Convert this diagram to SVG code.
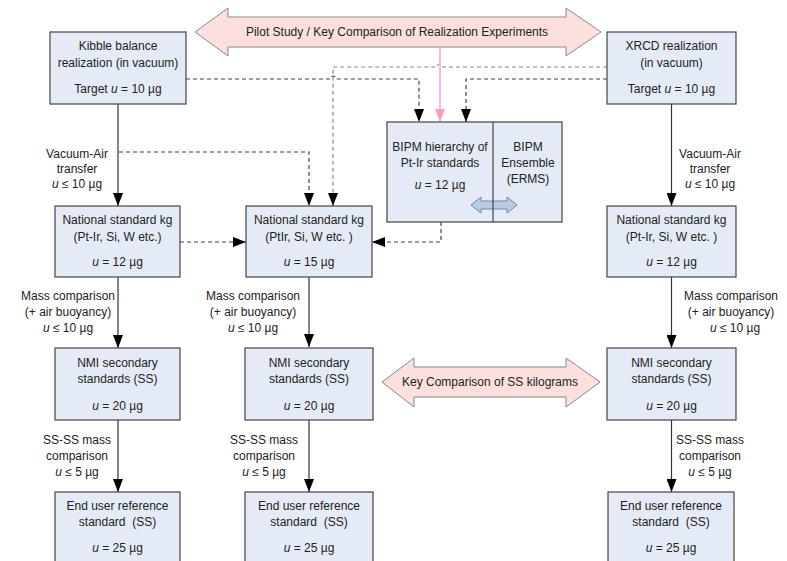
<svg xmlns="http://www.w3.org/2000/svg" width="787" height="561" viewBox="0 0 787 561">
<style>
  text { font-family: "Liberation Sans", Arial, sans-serif; font-size: 12px; fill: #222; text-anchor: middle; }
  .pre { white-space: pre; }
  .box { fill: #e5ebf6; stroke: #444; stroke-width: 1.2; }
  .big { fill: #fde0de; stroke: #888; stroke-width: 1; }
  .solid { fill: none; stroke: #333; stroke-width: 1.2; }
  .dash { fill: none; stroke: #444; stroke-width: 1.2; stroke-dasharray: 4 3; }
  .dashg { fill: none; stroke: #888; stroke-width: 1.2; stroke-dasharray: 4 3; }
  .pink { fill: none; stroke: #ff99cc; stroke-width: 1.4; }
</style>
<defs>
  <marker id="ah" viewBox="0 0 13 10" refX="13" refY="5" markerWidth="13" markerHeight="10" markerUnits="userSpaceOnUse" orient="auto">
    <path d="M0,0 L13,5 L0,10 z" fill="#000"/>
  </marker>
  <marker id="ahp" viewBox="0 0 13 10" refX="13" refY="5" markerWidth="13" markerHeight="10" markerUnits="userSpaceOnUse" orient="auto">
    <path d="M0,0 L13,5 L0,10 z" fill="#ff99cc"/>
  </marker>
</defs>

<g id="pilot-arrow">
  <polygon class="big" points="195,32 228,8 228,17 566,17 566,8 601,32 566,56 566,47 228,47 228,56"/>
  <text x="397" y="36">Pilot Study / Key Comparison of Realization Experiments</text>
</g>

<g id="key-arrow">
  <polygon class="big" points="382,382 414,358 414,367 566,367 566,358 600,382 566,407 566,397 414,397 414,407"/>
  <text x="490" y="386">Key Comparison of SS kilograms</text>
</g>

<g id="connectors">
  <path class="solid" d="M118,104 V206" marker-end="url(#ah)"/>
  <path class="solid" d="M671.5,104 V206" marker-end="url(#ah)"/>
  <path class="solid" d="M118,277 V348" marker-end="url(#ah)"/>
  <path class="solid" d="M309,277 V347" marker-end="url(#ah)"/>
  <path class="solid" d="M671.5,277 V348" marker-end="url(#ah)"/>
  <path class="solid" d="M118,420 V492" marker-end="url(#ah)"/>
  <path class="solid" d="M309,420 V492" marker-end="url(#ah)"/>
  <path class="solid" d="M671.5,420 V492" marker-end="url(#ah)"/>
  <path class="dashg" d="M607,67 H443 A3,3 0 0 0 437,67 H333 V206" marker-end="url(#ah)"/>
  <path class="dash" d="M186,79 H330 A3,3 0 0 1 336,79 H419 V122" marker-end="url(#ah)"/>
  <path class="dash" d="M607,79 H466 V122" marker-end="url(#ah)"/>
  <path class="dash" d="M119,152 H309 V206" marker-end="url(#ah)"/>
  <path class="dash" d="M180,242 H246" marker-end="url(#ah)"/>
  <path class="dash" d="M441,222 V242 H372" marker-end="url(#ah)"/>
  <path class="pink" d="M440,47 V122" marker-end="url(#ahp)"/>
</g>

<g id="kibble">
  <rect class="box" x="50" y="32" width="136" height="72"/>
  <text x="118" y="50">Kibble balance</text>
  <text x="118" y="67">realization (in vacuum)</text>
  <text x="118" y="93">Target <tspan font-style="italic">u</tspan> = 10 µg</text>
</g>

<g id="xrcd">
  <rect class="box" x="607" y="32" width="129" height="72"/>
  <text x="671.5" y="50">XRCD realization</text>
  <text x="671.5" y="67">(in vacuum)</text>
  <text x="671.5" y="93">Target <tspan font-style="italic">u</tspan> = 10 µg</text>
</g>

<g id="bipm">
  <rect class="box" x="387" y="122" width="175" height="100"/>
  <polygon points="471,205 481,197 481,201 507,201 507,197 517,205 507,213 507,209 481,209 481,213" fill="#b8cce4" stroke="#6a86b0" stroke-width="1"/>
  <line x1="493" y1="122" x2="493" y2="222" stroke="#444" stroke-width="1.2"/>
  <text x="440" y="151">BIPM hierarchy of</text>
  <text x="440" y="167">Pt-Ir standards</text>
  <text x="440" y="189"><tspan font-style="italic">u</tspan> = 12 µg</text>
  <text x="528" y="151">BIPM</text>
  <text x="528" y="167">Ensemble</text>
  <text x="528" y="183">(ERMS)</text>
</g>

<g id="national-left">
  <rect class="box" x="55" y="206" width="125" height="71"/>
  <text x="117.5" y="224">National standard kg</text>
  <text x="117.5" y="241">(Pt-Ir, Si, W etc.)</text>
  <text x="117.5" y="266"><tspan font-style="italic">u</tspan> = 12 µg</text>
</g>

<g id="national-mid">
  <rect class="box" x="246" y="206" width="126" height="71"/>
  <text x="309" y="224">National standard kg</text>
  <text x="309" y="241">(PtIr, Si, W etc. )</text>
  <text x="309" y="266"><tspan font-style="italic">u</tspan> = 15 µg</text>
</g>

<g id="national-right">
  <rect class="box" x="607" y="206" width="129" height="71"/>
  <text x="671.5" y="224">National standard kg</text>
  <text x="671.5" y="241">(Pt-Ir, Si, W etc. )</text>
  <text x="671.5" y="266"><tspan font-style="italic">u</tspan> = 12 µg</text>
</g>

<g id="nmi-left">
  <rect class="box" x="55" y="348" width="125" height="72"/>
  <text x="117.5" y="367">NMI secondary</text>
  <text x="117.5" y="383">standards (SS)</text>
  <text x="117.5" y="410"><tspan font-style="italic">u</tspan> = 20 µg</text>
</g>

<g id="nmi-mid">
  <rect class="box" x="245" y="348" width="128" height="72"/>
  <text x="309" y="367">NMI secondary</text>
  <text x="309" y="383">standards (SS)</text>
  <text x="309" y="410"><tspan font-style="italic">u</tspan> = 20 µg</text>
</g>

<g id="nmi-right">
  <rect class="box" x="607" y="348" width="129" height="72"/>
  <text x="671.5" y="367">NMI secondary</text>
  <text x="671.5" y="383">standards (SS)</text>
  <text x="671.5" y="410"><tspan font-style="italic">u</tspan> = 20 µg</text>
</g>

<g id="enduser-left">
  <rect class="box" x="55" y="492" width="125" height="80"/>
  <text x="117.5" y="510">End user reference</text>
  <text class="pre" x="117.5" y="526">standard  (SS)</text>
  <text x="117.5" y="552"><tspan font-style="italic">u</tspan> = 25 µg</text>
</g>

<g id="enduser-mid">
  <rect class="box" x="245" y="492" width="128" height="80"/>
  <text x="309" y="510">End user reference</text>
  <text class="pre" x="309" y="526">standard  (SS)</text>
  <text x="309" y="552"><tspan font-style="italic">u</tspan> = 25 µg</text>
</g>

<g id="enduser-right">
  <rect class="box" x="608" y="492" width="126" height="80"/>
  <text x="671" y="510">End user reference</text>
  <text class="pre" x="671" y="526">standard  (SS)</text>
  <text x="671" y="552"><tspan font-style="italic">u</tspan> = 25 µg</text>
</g>

<g id="labels">
  <text x="77" y="158">Vacuum-Air</text>
  <text x="77" y="173">transfer</text>
  <text x="77" y="188"><tspan font-style="italic">u</tspan> ≤ 10 µg</text>
  <text x="710" y="158">Vacuum-Air</text>
  <text x="710" y="173">transfer</text>
  <text x="710" y="188"><tspan font-style="italic">u</tspan> ≤ 10 µg</text>
  <text x="68" y="300">Mass comparison</text>
  <text x="68" y="316">(+ air buoyancy)</text>
  <text x="68" y="332"><tspan font-style="italic">u</tspan> ≤ 10 µg</text>
  <text x="253" y="300">Mass comparison</text>
  <text x="253" y="316">(+ air buoyancy)</text>
  <text x="253" y="332"><tspan font-style="italic">u</tspan> ≤ 10 µg</text>
  <text x="731" y="300">Mass comparison</text>
  <text x="731" y="316">(+ air buoyancy)</text>
  <text x="735" y="332"><tspan font-style="italic">u</tspan> ≤ 10 µg</text>
  <text x="77" y="444">SS-SS mass</text>
  <text x="77" y="460">comparison</text>
  <text x="77" y="476"><tspan font-style="italic">u</tspan> ≤ 5 µg</text>
  <text x="264" y="444">SS-SS mass</text>
  <text x="264" y="460">comparison</text>
  <text x="264" y="476"><tspan font-style="italic">u</tspan> ≤ 5 µg</text>
  <text x="710" y="444">SS-SS mass</text>
  <text x="710" y="460">comparison</text>
  <text x="710" y="476"><tspan font-style="italic">u</tspan> ≤ 5 µg</text>
</g>
</svg>
